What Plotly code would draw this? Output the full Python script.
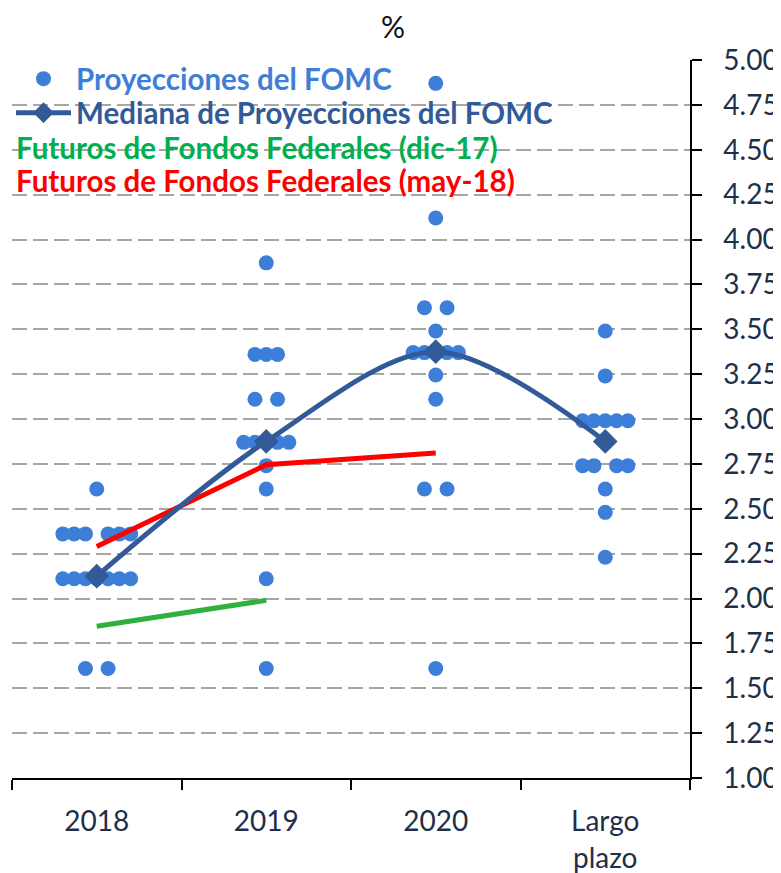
import plotly.graph_objects as go

# ---------------- data ----------------
categories = ["2018", "2019", "2020", "Largo<br>plazo"]
cat_pos = [1, 2, 3, 4]

# FOMC dot projections: value levels and number of participants at each level
dots_2018_vals = [2.61, 2.36, 2.11, 1.61]
dots_2018_cnt = [1, 6, 7, 2]
dots_2019_vals = [3.87, 3.36, 3.11, 2.87, 2.74, 2.61, 2.11, 1.61]
dots_2019_cnt = [1, 3, 2, 5, 1, 1, 1, 1]
dots_2020_vals = [4.87, 4.12, 3.62, 3.49, 3.37, 3.245, 3.11, 2.61, 1.61]
dots_2020_cnt = [1, 1, 2, 1, 5, 1, 1, 2, 1]
dots_lr_vals = [3.49, 3.24, 2.99, 2.74, 2.61, 2.48, 2.23]
dots_lr_cnt = [1, 1, 5, 4, 1, 1, 1]

mediana = [2.125, 2.875, 3.375, 2.875]
futuros_dic17 = [1.845, 1.99]          # 2018, 2019
futuros_may18 = [2.29, 2.745, 2.81]     # 2018, 2019, 2020

y_ticks = [1.00 + 0.25 * i for i in range(17)]

# ---------------- styling ----------------
C_DOT = "#3d7fd8"
C_MED = "#325a98"
C_GREEN = "#2fb13c"
C_GREEN_TXT = "#00b050"
C_RED = "#ff0000"
C_TXT = "#1e2f4a"
FONT = "Lato"
DOT_STEP = 1 / 15.0


def offsets(n):
    if n % 2 == 1:
        h = (n - 1) // 2
        return list(range(-h, h + 1))
    h = n // 2
    return list(range(-h, 0)) + list(range(1, h + 1))


xs, ys = [], []
for pos, vals, cnts in [
    (cat_pos[0], dots_2018_vals, dots_2018_cnt),
    (cat_pos[1], dots_2019_vals, dots_2019_cnt),
    (cat_pos[2], dots_2020_vals, dots_2020_cnt),
    (cat_pos[3], dots_lr_vals, dots_lr_cnt),
]:
    for v, c in zip(vals, cnts):
        for o in offsets(c):
            xs.append(pos + o * DOT_STEP)
            ys.append(v)

fig = go.Figure()

fig.add_trace(go.Scatter(
    x=xs, y=ys, mode="markers",
    marker=dict(size=15, color=C_DOT),
    name='<span style="color:%s">Proyecciones del FOMC</span>' % C_DOT,
    legend="legend",
))
fig.add_trace(go.Scatter(
    x=cat_pos[:2], y=futuros_dic17, mode="lines",
    line=dict(color=C_GREEN, width=5), showlegend=False,
))
fig.add_trace(go.Scatter(
    x=cat_pos[:3], y=futuros_may18, mode="lines",
    line=dict(color=C_RED, width=5), showlegend=False,
))
fig.add_trace(go.Scatter(
    x=cat_pos, y=mediana, mode="lines+markers",
    line=dict(color=C_MED, width=5, shape="spline", smoothing=0.9),
    marker=dict(symbol="diamond", size=19, color=C_MED),
    name='<span style="color:%s">Mediana de Proyecciones del FOMC</span>' % C_MED,
    legend="legend2",
))
# legend-only entries (text only, as in the original legend)
fig.add_trace(go.Scatter(
    x=[None], y=[None], mode="markers",
    marker=dict(size=1, color="rgba(0,0,0,0)"),
    name='<span style="color:%s">Futuros de Fondos Federales (dic-17)</span>' % C_GREEN_TXT,
    legend="legend3",
))
fig.add_trace(go.Scatter(
    x=[None], y=[None], mode="markers",
    marker=dict(size=1, color="rgba(0,0,0,0)"),
    name='<span style="color:%s">Futuros de Fondos Federales (may-18)</span>' % C_RED,
    legend="legend4",
))

# page is rendered with an 8px body margin
OFF = 8
W, H = 781 - OFF, 873 - OFF
# plot area in page pixels: x 12..690, y 60..778
L, R, T, B = 12 - OFF, 781 - 690, 60 - OFF, 873 - 778
pw, ph = W - L - R, H - T - B


def px_x(p):
    return (p - OFF - L) / pw


def px_y(p):
    return (H - B - (p - OFF)) / ph


def leg(xpx, ypx, iw):
    return dict(
        x=px_x(xpx), y=px_y(ypx), xanchor="left", yanchor="middle",
        bgcolor="rgba(0,0,0,0)", font=dict(family=FONT, size=29.5, weight="bold"),
        itemwidth=iw, tracegroupgap=0,
    )


fig.update_layout(
    width=W, height=H,
    margin=dict(l=L, r=R, t=T, b=B, autoexpand=False),
    paper_bgcolor="white", plot_bgcolor="white",
    font=dict(family=FONT, color=C_TXT, size=28),
    title=dict(text="%", x=(393 - OFF) / W, xanchor="center",
               y=1 - (27 - OFF) / H, yanchor="middle",
               font=dict(family=FONT, size=30, color="#111111")),
    legend=leg(11, 79, 55),
    legend2=leg(11, 113, 55),
    legend3=leg(-24, 148, 30),
    legend4=leg(-24, 181, 30),
    showlegend=True,
)

fig.update_xaxes(
    range=[0.5, 4.5], tickmode="array", tickvals=cat_pos, ticktext=categories,
    ticks="", showgrid=False, zeroline=False,
    showline=True, linecolor="black", linewidth=1.5,
    tickfont=dict(family=FONT, size=28, color=C_TXT),
    ticklabelstandoff=18,
    minor=dict(tickmode="array", tickvals=[0.5, 1.5, 2.5, 3.5, 4.5], ticks="outside",
               ticklen=10, tickwidth=1.5, tickcolor="black", showgrid=False),
)
fig.update_yaxes(
    range=[1, 5], side="right", tickmode="array", tickvals=y_ticks,
    tickformat=".2f", ticks="outside", ticklen=10, tickwidth=1.5, tickcolor="black",
    showline=True, linecolor="black", linewidth=1.5, zeroline=False,
    showgrid=True, gridcolor="#a6a6a6", gridwidth=2, griddash="15px,6px",
    tickfont=dict(family=FONT, size=28, color=C_TXT),
    ticklabelstandoff=16,
)

fig.write_html("out.html")
